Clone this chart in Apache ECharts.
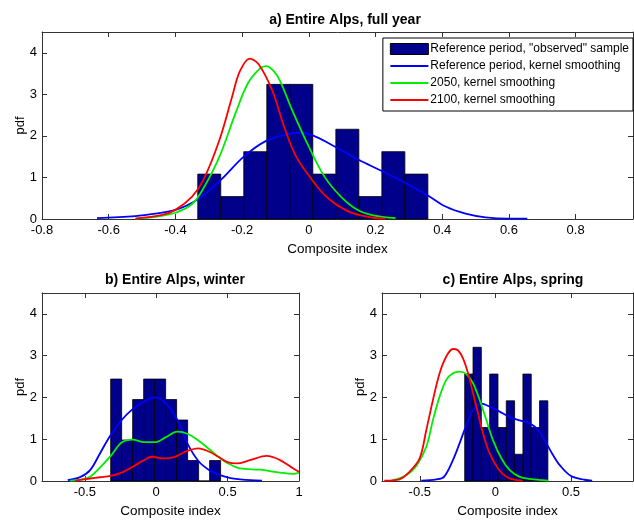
<!DOCTYPE html>
<html><head><meta charset="utf-8">
<script src="https://cdn.jsdelivr.net/npm/echarts@6/dist/echarts.min.js"></script>
<style>html,body{margin:0;padding:0;background:#fff}#c{width:634px;height:521px}</style>
</head><body><div id="c"></div>
<script>
// ---------- data ----------
const seriesNames = ['Reference period, "observed" sample', 'Reference period, kernel smoothing', '2050, kernel smoothing', '2100, kernel smoothing'];
const titles = ['a) Entire Alps, full year', 'b) Entire Alps, winter', 'c) Entire Alps, spring'];
const xTicksA = [-0.8, -0.6, -0.4, -0.2, 0, 0.2, 0.4, 0.6, 0.8];
const xTicksB = [-0.5, 0, 0.5, 1];
const xTicksC = [-0.5, 0, 0.5];
const yTicks = [0, 1, 2, 3, 4];

// (a) full year histogram: bin edges and heights
const histEdgesA = [-0.333, -0.264, -0.195, -0.126, -0.057, 0.012, 0.081, 0.150, 0.219, 0.288, 0.357];
const histHeightsA = [1.08, 0.54, 1.62, 3.24, 3.24, 1.08, 2.16, 0.54, 1.62, 1.08];
const refKdeA = [[-0.635,0.02],[-0.52,0.07],[-0.46,0.13],[-0.4,0.22],[-0.336,0.46],[-0.264,0.94],[-0.195,1.5],[-0.128,1.88],[-0.061,2.05],[-0.03,2.07],[0.01,2.02],[0.079,1.74],[0.148,1.43],[0.217,1.16],[0.287,0.88],[0.356,0.57],[0.41,0.3],[0.47,0.13],[0.53,0.04],[0.6,0.01],[0.655,0.01]];
const kde2050A = [[-0.52,0.01],[-0.46,0.05],[-0.4,0.15],[-0.35,0.36],[-0.316,0.74],[-0.268,1.5],[-0.22,2.54],[-0.183,3.26],[-0.147,3.62],[-0.128,3.68],[-0.105,3.56],[-0.086,3.32],[-0.05,2.62],[0,1.74],[0.047,1.02],[0.096,0.54],[0.144,0.23],[0.193,0.09],[0.26,0.02]];
const kde2100A = [[-0.52,0.01],[-0.44,0.1],[-0.4,0.22],[-0.35,0.54],[-0.316,0.94],[-0.268,1.9],[-0.23,2.94],[-0.207,3.55],[-0.177,3.86],[-0.15,3.72],[-0.11,3.1],[-0.074,2.22],[-0.038,1.5],[0.01,0.94],[0.047,0.58],[0.084,0.34],[0.132,0.14],[0.193,0.03],[0.23,0.01]];

// (b) winter
const histEdgesB = [-0.319, -0.242, -0.165, -0.088, -0.011, 0.066, 0.143, 0.220, 0.297, 0.374, 0.451];
const histHeightsB = [2.44, 0.98, 1.95, 2.44, 2.44, 1.95, 1.46, 0.49, 0, 0.49];
const refKdeB = [[-0.62,0.02],[-0.53,0.1],[-0.463,0.26],[-0.394,0.66],[-0.319,1.1],[-0.242,1.46],[-0.165,1.72],[-0.085,1.9],[-0.008,2.0],[0.069,1.86],[0.148,1.46],[0.218,0.9],[0.295,0.48],[0.372,0.26],[0.447,0.14],[0.52,0.07],[0.587,0.04],[0.66,0.02],[0.74,0.01]];
const kde2050B = [[-0.6,0.01],[-0.52,0.04],[-0.463,0.1],[-0.394,0.32],[-0.319,0.6],[-0.242,0.92],[-0.165,0.99],[-0.085,0.93],[-0.008,0.93],[0.069,1.05],[0.148,1.18],[0.218,1.13],[0.295,0.97],[0.372,0.76],[0.435,0.58],[0.494,0.44],[0.587,0.3],[0.727,0.27],[0.867,0.2],[0.96,0.17],[1.0,0.2]];
const kde2100B = [[-0.57,0.01],[-0.463,0.06],[-0.394,0.09],[-0.319,0.12],[-0.242,0.2],[-0.165,0.34],[-0.085,0.5],[-0.03,0.58],[0.05,0.54],[0.13,0.58],[0.218,0.72],[0.295,0.78],[0.372,0.7],[0.435,0.58],[0.494,0.46],[0.564,0.42],[0.657,0.5],[0.774,0.6],[0.867,0.5],[0.96,0.3],[1.0,0.22]];

// (c) spring
const histEdgesC = [-0.203, -0.148, -0.093, -0.038, 0.017, 0.072, 0.127, 0.182, 0.237, 0.292, 0.347];
const histHeightsC = [2.56, 3.2, 1.28, 2.56, 1.28, 1.92, 0.64, 2.56, 1.28, 1.92];
const refKdeC = [[-0.49,0.01],[-0.39,0.04],[-0.34,0.1],[-0.281,0.5],[-0.237,0.9],[-0.192,1.34],[-0.148,1.7],[-0.093,1.85],[-0.038,1.78],[0.028,1.66],[0.095,1.53],[0.161,1.45],[0.227,1.38],[0.282,1.22],[0.337,0.9],[0.381,0.62],[0.43,0.36],[0.5,0.12],[0.59,0.03],[0.64,0.01]];
const kde2050C = [[-0.68,0.02],[-0.59,0.14],[-0.523,0.36],[-0.457,0.82],[-0.413,1.46],[-0.369,2.02],[-0.325,2.42],[-0.281,2.58],[-0.237,2.62],[-0.192,2.56],[-0.148,2.34],[-0.104,1.94],[-0.06,1.46],[-0.016,0.98],[0.04,0.54],[0.095,0.26],[0.161,0.1],[0.227,0.05],[0.315,0.02],[0.35,0.01]];
const kde2100C = [[-0.735,0.01],[-0.634,0.04],[-0.568,0.22],[-0.501,0.54],[-0.457,1.22],[-0.413,1.94],[-0.369,2.58],[-0.325,2.98],[-0.281,3.16],[-0.248,3.13],[-0.215,2.94],[-0.181,2.58],[-0.148,2.1],[-0.115,1.62],[-0.082,1.14],[-0.038,0.66],[0.017,0.3],[0.073,0.1],[0.139,0.02],[0.18,0.01]];

// ---------- chart ----------
const FONT = 'Liberation Sans, Arial, sans-serif';
const AXC = '#333';
const BLUE = '#0000FF', GREEN = '#00EE00', RED = '#FF0000', NAVY = '#00008B';
const panels = [
  {grid:{left:42, top:32, right:1, bottom:302}, xmin:-0.8, xmax:0.972, xt:xTicksA, edges:histEdgesA, h:histHeightsA, ref:refKdeA, k50:kde2050A, k100:kde2100A},
  {grid:{left:42, top:293, right:335, bottom:40}, xmin:-0.8, xmax:1.0, xt:xTicksB, edges:histEdgesB, h:histHeightsB, ref:refKdeB, k50:kde2050B, k100:kde2100B},
  {grid:{left:382, top:293, right:1, bottom:40}, xmin:-0.75, xmax:0.91, xt:xTicksC, edges:histEdgesC, h:histHeightsC, ref:refKdeC, k50:kde2050C, k100:kde2100C}
];
const grids = [], xAxes = [], yAxes = [], series = [];
panels.forEach((p, i) => {
  grids.push(p.grid);
  const lbl = {fontFamily: FONT, fontSize: 13, color: '#000'};
  xAxes.push({type:'value', gridIndex:i, min:p.xmin, max:p.xmax, position:'bottom',
    name:'Composite index', nameLocation:'middle', nameGap:23, nameMoveOverlap:false,
    nameTextStyle:{fontFamily:FONT, fontSize:13.5, color:'#000'},
    axisLine:{onZero:false, lineStyle:{color:AXC, width:1}}, splitLine:{show:false},
    axisTick:{inside:true, length:5, lineStyle:{color:AXC}, customValues:p.xt},
    axisLabel:Object.assign({margin:5, customValues:p.xt, formatter:v=>String(+v.toFixed(2))}, lbl)});
  xAxes.push({type:'value', gridIndex:i, min:p.xmin, max:p.xmax, position:'top',
    axisLine:{onZero:false, lineStyle:{color:AXC, width:1}}, splitLine:{show:false},
    axisTick:{inside:true, length:5, lineStyle:{color:AXC}, customValues:p.xt}, axisLabel:{show:false}});
  yAxes.push({type:'value', gridIndex:i, min:0, max:4.5, position:'left',
    name:'pdf', nameLocation:'middle', nameGap:15, nameMoveOverlap:false,
    nameTextStyle:{fontFamily:FONT, fontSize:13, color:'#000'},
    axisLine:{onZero:false, lineStyle:{color:AXC, width:1}}, splitLine:{show:false},
    axisTick:{inside:true, length:5, lineStyle:{color:AXC}, customValues:yTicks},
    axisLabel:Object.assign({margin:5, customValues:yTicks}, lbl)});
  yAxes.push({type:'value', gridIndex:i, min:0, max:4.5, position:'right',
    axisLine:{onZero:false, lineStyle:{color:AXC, width:1}}, splitLine:{show:false},
    axisTick:{inside:true, length:5, lineStyle:{color:AXC}, customValues:yTicks}, axisLabel:{show:false}});
  const bins = p.h.map((v, k) => [p.edges[k], p.edges[k+1], v]);
  series.push({type:'custom', name:seriesNames[0], xAxisIndex:2*i, yAxisIndex:2*i, data:bins,
    itemStyle:{color:NAVY},
    renderItem:(params, api) => {
      const a = api.coord([api.value(0), 0]);
      const b = api.coord([api.value(1), api.value(2)]);
      return {type:'rect', shape:{x:a[0], y:b[1], width:b[0]-a[0], height:a[1]-b[1]},
        style:{fill:NAVY, stroke:'#000', lineWidth:0.8}};
    }, z:2});
  const lineS = (name, data, color) => ({type:'line', name, xAxisIndex:2*i, yAxisIndex:2*i, data,
    smooth:0.35, symbol:'none', lineStyle:{color, width:1.8}, itemStyle:{color}, z:3, animation:false});
  series.push(lineS(seriesNames[1], p.ref, BLUE));
  series.push(lineS(seriesNames[2], p.k50, GREEN));
  series.push(lineS(seriesNames[3], p.k100, RED));
});

const lineIcon = 'path://M0,0H40V2H0Z';
const chart = echarts.init(document.getElementById('c'), null, {renderer:'canvas'});
chart.setOption({
  animation:false,
  backgroundColor:'#fff',
  title:[
    {text:titles[0], left:340, top:8, textAlign:'center', textStyle:{fontFamily:FONT, fontSize:14, fontWeight:'bold', color:'#000'}},
    {text:titles[1], left:170, top:268, textAlign:'center', textStyle:{fontFamily:FONT, fontSize:14, fontWeight:'bold', color:'#000'}},
    {text:titles[2], left:508, top:268, textAlign:'center', textStyle:{fontFamily:FONT, fontSize:14, fontWeight:'bold', color:'#000'}}
  ],
  legend:{orient:'vertical', right:1, top:38, itemWidth:38, itemHeight:11, itemGap:5,
    padding:[5,4,5,7], backgroundColor:'#fff', borderColor:'#000', borderWidth:1,
    symbolKeepAspect:true,
    textStyle:{fontFamily:FONT, fontSize:12, color:'#000', padding:[0,0,0,-3]},
    data:[
      {name:seriesNames[0], icon:'rect', itemStyle:{color:NAVY, borderColor:'#000', borderWidth:1}},
      {name:seriesNames[1], icon:lineIcon, itemStyle:{color:BLUE}},
      {name:seriesNames[2], icon:lineIcon, itemStyle:{color:GREEN}},
      {name:seriesNames[3], icon:lineIcon, itemStyle:{color:RED}}
    ], selectedMode:false},
  grid:grids, xAxis:xAxes, yAxis:yAxes, series
});
</script></body></html>
